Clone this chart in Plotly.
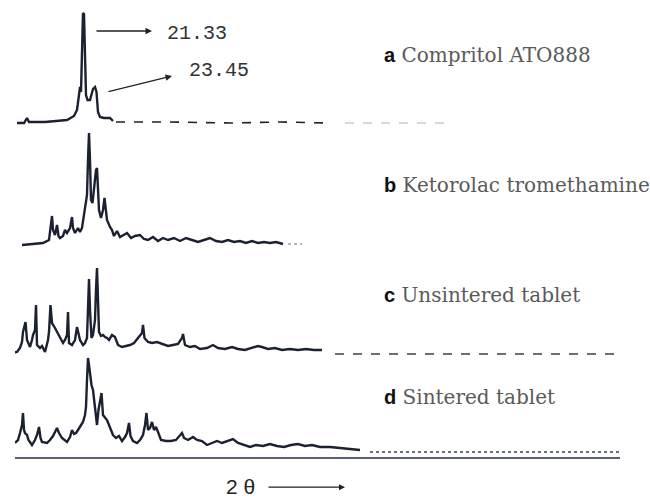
import plotly.graph_objects as go

# ---------------- data: 2-theta (deg) and relative intensity ----------------
a_2theta = [14.7, 15.4, 15.7, 15.9, 17.5, 19.0, 19.7, 20.4, 20.7, 20.9, 21.0, 21.1, 21.2, 21.3,
            21.4, 21.5, 21.6, 21.75, 22.0, 22.3, 22.5, 22.65, 22.8, 23.0, 23.4, 24.0, 24.3]
a_int = [0, 0, 5, 1, 1, 2, 3, 7, 13, 28, 36, 31, 83, 110,
         109, 63, 28, 23, 23, 34, 36, 31, 11, 6, 5, 5, 2]
a_tail_2theta = [24.6, 30.0, 36.0, 41.0, 46.0]
a_tail_int = [1, 1, 0, 1, 0]
a_faint_2theta = [47.5, 52.0, 57.5]
a_faint_int = [0, 0, 0]

b_2theta = [15.2, 16.5, 17.3, 17.9, 18.1, 18.2, 18.3, 18.5, 18.7, 18.85, 19.0, 19.3, 19.5, 19.7,
            20.0, 20.2, 20.3, 20.5, 20.8, 21.0, 21.2, 21.4, 21.5, 21.6, 21.7, 21.8, 21.9, 22.0,
            22.1, 22.25, 22.4, 22.6, 22.7, 22.8, 22.9, 23.1, 23.3, 23.45, 23.55, 23.7, 24.0, 24.2,
            24.4, 24.7, 25.0, 25.4, 25.7, 26.1, 26.5, 27.0, 27.4, 27.8, 28.3, 28.8, 29.3, 29.8,
            30.4, 31.0, 31.6, 32.2, 32.8, 33.4, 34.0, 34.6, 35.2, 35.8, 36.4, 37.0, 37.6, 38.2,
            38.8, 39.4, 40.0, 40.6, 41.3]
b_int = [0, 1, 2, 5, 20, 29, 15, 10, 20, 9, 7, 9, 15, 12,
         17, 28, 17, 12, 17, 13, 17, 30, 33, 42, 50, 85, 112, 85,
         45, 42, 55, 75, 77, 50, 35, 27, 35, 47, 40, 25, 18, 15,
         9, 14, 8, 10, 12, 7, 9, 10, 6, 5, 8, 4, 7, 5,
         7, 4, 7, 5, 3, 5, 7, 4, 3, 5, 3, 4, 2, 4,
         2, 3, 2, 3, 1]
b_tail_2theta = [41.8, 43.2]
b_tail_int = [1, 1]

c_2theta = [14.0, 14.7, 15.0, 15.2, 15.3, 15.4, 15.55, 15.7, 15.9, 16.0, 16.2, 16.3, 16.5, 16.6,
            16.7, 17.0, 17.2, 17.5, 17.8, 17.9, 18.05, 18.2, 18.5, 18.7, 19.0, 19.3, 19.5, 19.7,
            19.8, 19.9, 20.2, 20.5, 20.7, 20.85, 21.0, 21.3, 21.5, 21.7, 21.8, 21.9, 22.0, 22.15,
            22.3, 22.5, 22.6, 22.7, 22.8, 22.9, 23.1, 23.3, 23.5, 23.7, 23.9, 24.2, 24.5, 24.8,
            25.2, 25.6, 26.0, 26.4, 26.8, 27.2, 27.3, 27.45, 27.8, 28.2, 28.7, 29.2, 29.8, 30.3,
            30.8, 31.2, 31.3, 31.5, 32.0, 32.5, 33.0, 33.7, 34.3, 34.8, 35.5, 36.2, 36.8, 37.5,
            38.2, 38.8, 39.2, 39.8, 40.5, 41.2, 42.0, 42.8, 43.6, 44.4, 45.2]
c_int = [-1, 0, 4, 10, 20, 25, 30, 12, 7, 5, 12, 17, 22, 47,
         7, 4, 6, 0, 12, 20, 47, 29, 24, 20, 15, 9, 12, 17,
         40, 9, 7, 12, 25, 17, 12, 7, 9, 14, 52, 73, 42, 14,
         17, 32, 62, 84, 52, 20, 16, 17, 15, 14, 12, 17, 15, 7,
         5, 6, 7, 9, 14, 19, 27, 14, 10, 9, 10, 8, 6, 7,
         8, 14, 18, 7, 5, 6, 3, 4, 7, 4, 3, 5, 3, 2,
         4, 6, 5, 3, 4, 2, 3, 2, 3, 2, 2]
c_tail_2theta = [46.5, 52.0, 58.0, 64.0, 70.0, 74.5]
c_tail_int = [-2, -2, -2, -2, -2, -2]

d_2theta = [14.5, 14.8, 15.0, 15.2, 15.3, 15.4, 15.5, 15.7, 15.85, 16.2, 16.5, 16.7, 16.9, 17.05,
            17.2, 17.7, 18.0, 18.3, 18.7, 18.9, 19.2, 19.7, 20.0, 20.2, 20.4, 20.6, 20.8, 21.1,
            21.3, 21.5, 21.6, 21.7, 21.8, 21.9, 22.0, 22.15, 22.3, 22.4, 22.5, 22.6, 22.7, 22.85,
            23.0, 23.15, 23.3, 23.5, 23.7, 23.9, 24.1, 24.3, 24.6, 24.9, 25.2, 25.5, 25.7, 25.9,
            26.05, 26.3, 26.7, 27.0, 27.3, 27.5, 27.65, 27.8, 28.0, 28.2, 28.4, 28.6, 28.8, 29.1,
            29.6, 30.1, 30.6, 31.0, 31.2, 31.4, 31.8, 32.3, 32.7, 33.2, 33.7, 34.2, 34.7, 35.2,
            35.8, 36.3, 36.8, 37.4, 38.0, 38.6, 39.3, 40.0, 40.7, 41.4, 42.1, 42.8, 43.5, 44.2,
            45.0, 46.0, 47.0, 48.0, 49.0]
d_int = [2, 5, 12, 20, 32, 15, 12, 10, 5, 0, 5, 10, 18, 7,
         3, 2, 5, 9, 17, 12, 7, 3, 8, 15, 11, 12, 15, 20,
         23, 30, 38, 65, 87, 80, 72, 60, 55, 45, 38, 27, 20, 35,
         45, 52, 30, 27, 25, 20, 15, 10, 7, 9, 4, 8, 12, 22,
         9, 4, 2, 5, 10, 20, 32, 15, 17, 23, 15, 18, 13, 5,
         4, 4, 5, 9, 12, 7, 5, 8, 5, 4, 0, 2, 4, 2,
         4, 6, 2, 0, -2, 0, -1, 1, -1, -2, 0, 1, -1, 0,
         -2, -2, -3, -4, -5]
d_tail_2theta = [50.0, 56.0, 62.0, 68.0, 75.0]
d_tail_int = [-7, -7, -7, -7, -7]

offsets = [334, 212, 105, 12]          # vertical stacking of patterns a, b, c, d
letters = ["a", "b", "c", "d"]
names = ["Compritol ATO888", "Ketorolac tromethamine", "Unsintered tablet", "Sintered tablet"]
peak_labels = ["21.33", "23.45"]

LINE = "#1b2130"

fig = go.Figure()

def add(x, y, off, dash="solid", color=LINE, width=2.4):
    fig.add_trace(go.Scatter(x=x, y=[v + off for v in y], mode="lines",
                             line=dict(color=color, width=width, dash=dash),
                             showlegend=False, hoverinfo="skip"))

add(a_2theta, a_int, offsets[0])
add(a_tail_2theta, a_tail_int, offsets[0], dash="dash", width=1.6)
add(a_faint_2theta, a_faint_int, offsets[0], dash="dash", color="#c8ccd4", width=1.4)
add(b_2theta, b_int, offsets[1])
add(b_tail_2theta, b_tail_int, offsets[1], dash="dot", color="#9aa0aa", width=1.6)
add(c_2theta, c_int, offsets[2])
add(c_tail_2theta, c_tail_int, offsets[2], dash="dash", color="#3a4050", width=1.6)
add(d_2theta, d_int, offsets[3])
add(d_tail_2theta, d_tail_int, offsets[3], dash="dot", color="#3a4050", width=1.6)

annotations = []
# sample labels
label_y = [402, 272, 162, 60]
for letter, name, ly in zip(letters, names, label_y):
    annotations.append(dict(
        x=51.2, y=ly, xref="x", yref="y", xanchor="left", yanchor="middle", showarrow=False,
        text=("<span style='font-family:Liberation Sans, Arial;font-weight:bold;color:#111'>"
              + letter + "</span> " + name),
        font=dict(family="DejaVu Serif", size=20, color="#5a5a5a")))

# peak value arrows and labels
annotations.append(dict(x=28.2, y=426, ax=22.5, ay=426, xref="x", yref="y", axref="x", ayref="y",
                        text="", showarrow=True, arrowhead=2, arrowsize=1, arrowwidth=1.3,
                        arrowcolor="#222"))
annotations.append(dict(x=29.5, y=424, xref="x", yref="y", xanchor="left", yanchor="middle",
                        showarrow=False, text=peak_labels[0],
                        font=dict(family="Liberation Mono", size=20, color="#333")))
annotations.append(dict(x=30.2, y=381, ax=23.7, ay=365, xref="x", yref="y", axref="x", ayref="y",
                        text="", showarrow=True, arrowhead=2, arrowsize=1, arrowwidth=1.3,
                        arrowcolor="#222"))
annotations.append(dict(x=31.7, y=387, xref="x", yref="y", xanchor="left", yanchor="middle",
                        showarrow=False, text=peak_labels[1],
                        font=dict(family="Liberation Mono", size=20, color="#333")))

# 2-theta axis title with arrow (below the axis, paper-referenced vertically)
annotations.append(dict(x=37.0, y=-0.064, xref="x", yref="paper", xanchor="center",
                        yanchor="middle", showarrow=False, text="2 θ",
                        font=dict(family="Liberation Sans", size=21, color="#222")))
annotations.append(dict(x=47.5, y=-0.066, xref="x", yref="paper", ax=-78, ay=0,
                        text="", showarrow=True, arrowhead=2, arrowsize=1, arrowwidth=1.2,
                        arrowcolor="#222"))

fig.update_layout(
    width=650, height=500,
    margin=dict(l=15, r=30, t=0, b=43, autoexpand=False),
    paper_bgcolor="white", plot_bgcolor="white",
    annotations=annotations,
    xaxis=dict(range=[14.5, 75.0], showgrid=False, zeroline=False, showticklabels=False,
               ticks="", showline=True, linecolor="#5a6070", linewidth=1.5),
    yaxis=dict(range=[0, 457], showgrid=False, zeroline=False, showticklabels=False,
               ticks="", showline=False),
)

fig.write_html("out.html", config={"displayModeBar": False},
               post_script="document.body.style.margin='0';document.body.style.overflow='hidden';")
